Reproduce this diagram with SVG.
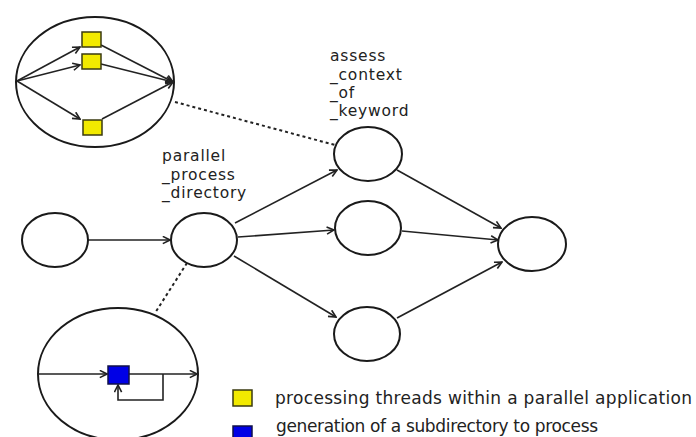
<svg xmlns="http://www.w3.org/2000/svg" width="696" height="437" viewBox="0 0 696 437">
  <style>
    .node { fill: #ffffff; stroke: #1a1a1a; stroke-width: 2; }
    .edge { fill: none; stroke: #222222; stroke-width: 1.6; }
    .dots { fill: none; stroke: #222222; stroke-width: 2; stroke-dasharray: 3 3; }
    .thread { fill: #f2ea00; stroke: #3a3a10; stroke-width: 1.5; }
    .subdir { fill: #0000e6; stroke: #10104a; stroke-width: 1.5; }
    .label { font-family: "DejaVu Sans", "Liberation Sans", sans-serif; font-size: 15.5px; letter-spacing: 0.8px; fill: #222222; }
    .legend { font-family: "DejaVu Sans", "Liberation Sans", sans-serif; font-size: 17px; fill: #222222; }
  </style>
  <defs>
    <marker id="arrow" viewBox="0 0 10 10" refX="9" refY="5" markerWidth="9" markerHeight="9" markerUnits="userSpaceOnUse" orient="auto">
      <path d="M1,1 L9,5 L1,9" fill="none" stroke="#222222" stroke-width="1.8"/>
    </marker>
  </defs>

  <rect width="696" height="437" fill="#ffffff"/>

  <!-- detail callouts linked to graph nodes -->
  <g id="connectors">
    <path class="dots" d="M175,102 L335,145"/>
    <path class="dots" d="M187,263 L155,313"/>
    <path class="edge" marker-end="url(#arrow)" d="M88,240 L170,240"/>
    <path class="edge" marker-end="url(#arrow)" d="M235,223 L337,170"/>
    <path class="edge" marker-end="url(#arrow)" d="M238,237 L334,230"/>
    <path class="edge" marker-end="url(#arrow)" d="M234,256 L336,317"/>
    <path class="edge" marker-end="url(#arrow)" d="M397,170 L501,228"/>
    <path class="edge" marker-end="url(#arrow)" d="M402,231 L498,240"/>
    <path class="edge" marker-end="url(#arrow)" d="M397,318 L502,262"/>
  </g>

  <!-- thread fan-out inside a parallel application -->
  <g id="threads-detail">
    <ellipse class="node" cx="95" cy="82" rx="79" ry="65"/>
    <path class="edge" marker-end="url(#arrow)" d="M17,81 L80,47"/>
    <path class="edge" marker-end="url(#arrow)" d="M17,81 L80,65"/>
    <path class="edge" marker-end="url(#arrow)" d="M17,81 L80,119"/>
    <path class="edge" marker-end="url(#arrow)" d="M101,45 L173,82"/>
    <path class="edge" marker-end="url(#arrow)" d="M101,64 L173,82"/>
    <path class="edge" marker-end="url(#arrow)" d="M102,119 L173,82"/>
    <rect class="thread" x="82" y="32" width="19" height="15"/>
    <rect class="thread" x="82" y="54" width="19" height="15"/>
    <rect class="thread" x="83" y="120" width="19" height="15"/>
  </g>

  <!-- subdirectory generation loop -->
  <g id="subdir-detail">
    <ellipse class="node" cx="118" cy="374" rx="80" ry="66"/>
    <path class="edge" marker-end="url(#arrow)" d="M38,374 L107,374"/>
    <path class="edge" marker-end="url(#arrow)" d="M129,374 L197,374"/>
    <path class="edge" marker-end="url(#arrow)" d="M163,374 L163,400 L118,400 L118,385"/>
    <rect class="subdir" x="108" y="366" width="21" height="18"/>
  </g>

  <g id="start">
    <ellipse class="node" cx="55" cy="240" rx="33" ry="27"/>
  </g>

  <g id="parallel_process_directory">
    <ellipse class="node" cx="204" cy="240" rx="33" ry="27"/>
    <text class="label" x="162" y="161">parallel</text>
    <text class="label" x="162" y="180">_process</text>
    <text class="label" x="162" y="198">_directory</text>
  </g>

  <g id="assess_context_of_keyword">
    <ellipse class="node" cx="368" cy="154" rx="34" ry="27"/>
    <text class="label" x="330" y="61">assess</text>
    <text class="label" x="330" y="80">_context</text>
    <text class="label" x="330" y="98">_of</text>
    <text class="label" x="330" y="116">_keyword</text>
  </g>

  <g id="middle">
    <ellipse class="node" cx="368" cy="228" rx="33" ry="27"/>
  </g>

  <g id="lower">
    <ellipse class="node" cx="367" cy="334" rx="33" ry="27"/>
  </g>

  <g id="join">
    <ellipse class="node" cx="532" cy="244" rx="34" ry="27"/>
  </g>

  <g id="legend">
    <rect class="thread" x="233" y="390" width="19" height="16"/>
    <text class="legend" x="275" y="404" textLength="417" lengthAdjust="spacing">processing threads within a parallel application</text>
    <rect class="subdir" x="233" y="426" width="19" height="16"/>
    <text class="legend" x="276" y="432" textLength="322" lengthAdjust="spacing">generation of a subdirectory to process</text>
  </g>
</svg>
